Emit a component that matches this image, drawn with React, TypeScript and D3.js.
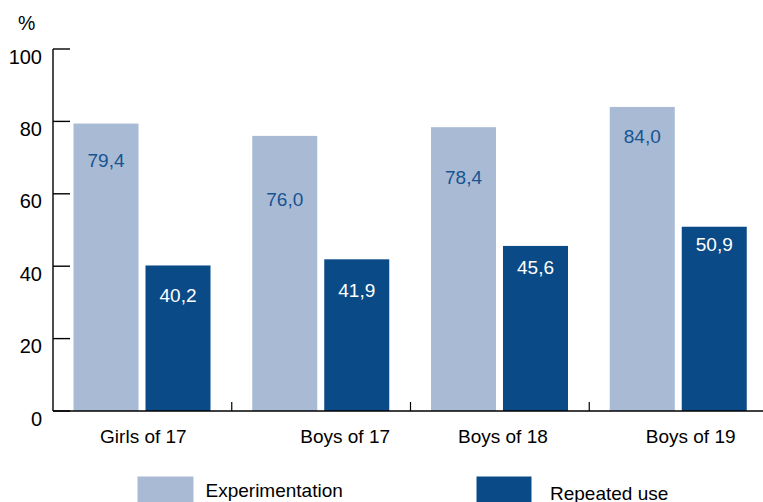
import * as d3 from 'd3';

// Chart data
const categories = ['Girls of 17', 'Boys of 17', 'Boys of 18', 'Boys of 19'];
const seriesNames = ['Experimentation', 'Repeated use'];
const experimentation = [79.4, 76.0, 78.4, 84.0];
const repeatedUse = [40.2, 41.9, 45.6, 50.9];
const yTicks = [0, 20, 40, 60, 80, 100];

// Where the value labels sit inside the bars (in % units, label centre)
const experimentationLabelAt = [69.4, 58.6, 64.6, 75.8];
const repeatedLabelAt = [32.0, 33.5, 39.8, 46.2];
// Small horizontal nudges of the category labels, as in the original
const categoryLabelShift = [1, 24, 3, 12];

const svgWidth = 763;
const svgHeight = 502;
const font = 'Liberation Sans, Arial, Helvetica, sans-serif';

const lightBlue = '#a9bad4';
const darkBlue = '#0a4a87';
const textBlue = '#175391';

function App() {
  const axisX = 53;
  const plotTop = 49;
  const plotBottom = 411;

  const x0 = d3
    .scaleBand<string>()
    .domain(categories)
    .range([axisX, axisX + 715]);

  const x1 = d3
    .scaleBand<string>()
    .domain(seriesNames)
    .range([20.5, 157.5])
    .paddingInner(0.097);

  const y = d3.scaleLinear().domain([0, 100]).range([plotBottom, plotTop]);

  const rows = categories.map((c, i) => ({
    category: c,
    values: [experimentation[i], repeatedUse[i]],
    labelAt: [experimentationLabelAt[i], repeatedLabelAt[i]],
  }));

  const fmt = (v: number) => v.toFixed(1).replace('.', ',');

  return (
    <svg
      width={svgWidth}
      height={svgHeight}
      style={{ position: 'absolute', left: 0, top: 0, background: '#fff' }}
      fontFamily={font}
    >
      {/* unit label */}
      <text x={18} y={30} fontSize={19.5} fill="#000">
        %
      </text>

      {/* bars */}
      {rows.map((row) => (
        <g key={row.category} transform={`translate(${x0(row.category)},0)`}>
          {row.values.map((v, j) => (
            <rect
              key={seriesNames[j]}
              x={x1(seriesNames[j])}
              y={y(v)}
              width={x1.bandwidth()}
              height={y(0) - y(v)}
              fill={j === 0 ? lightBlue : darkBlue}
            />
          ))}
          {row.values.map((v, j) => (
            <text
              key={'l' + seriesNames[j]}
              x={(x1(seriesNames[j]) as number) + x1.bandwidth() / 2}
              y={y(row.labelAt[j])}
              dy="0.36em"
              textAnchor="middle"
              fontSize={19}
              fill={j === 0 ? textBlue : '#fff'}
            >
              {fmt(v)}
            </text>
          ))}
        </g>
      ))}

      {/* y axis */}
      <line x1={axisX} x2={axisX} y1={plotTop} y2={plotBottom} stroke="#000" strokeWidth={1.4} />
      {yTicks.map((t) => (
        <g key={t}>
          <line x1={axisX} x2={axisX + 17} y1={y(t)} y2={y(t)} stroke="#000" strokeWidth={1.4} />
          <text x={42} y={y(t) + 14.5} textAnchor="end" fontSize={20} fill="#000">
            {t}
          </text>
        </g>
      ))}

      {/* x axis */}
      <line x1={axisX} x2={svgWidth} y1={plotBottom} y2={plotBottom} stroke="#000" strokeWidth={1.4} />
      {categories.slice(1).map((c) => (
        <line
          key={c}
          x1={x0(c)}
          x2={x0(c)}
          y1={plotBottom}
          y2={plotBottom - 9}
          stroke="#000"
          strokeWidth={1.2}
        />
      ))}
      {categories.map((c, i) => (
        <text
          key={c}
          x={(x0(c) as number) + 89.4 + categoryLabelShift[i]}
          y={443}
          textAnchor="middle"
          fontSize={19}
          fill="#000"
        >
          {c}
        </text>
      ))}

      {/* legend */}
      <rect x={137.5} y={476.5} width={56} height={30} fill={lightBlue} />
      <text x={205.5} y={497} fontSize={19} fill="#000">
        {seriesNames[0]}
      </text>
      <rect x={476.5} y={476.5} width={55} height={30} fill={darkBlue} />
      <text x={550} y={499.5} fontSize={19} fill="#000">
        {seriesNames[1]}
      </text>
    </svg>
  );
}

export default App;
